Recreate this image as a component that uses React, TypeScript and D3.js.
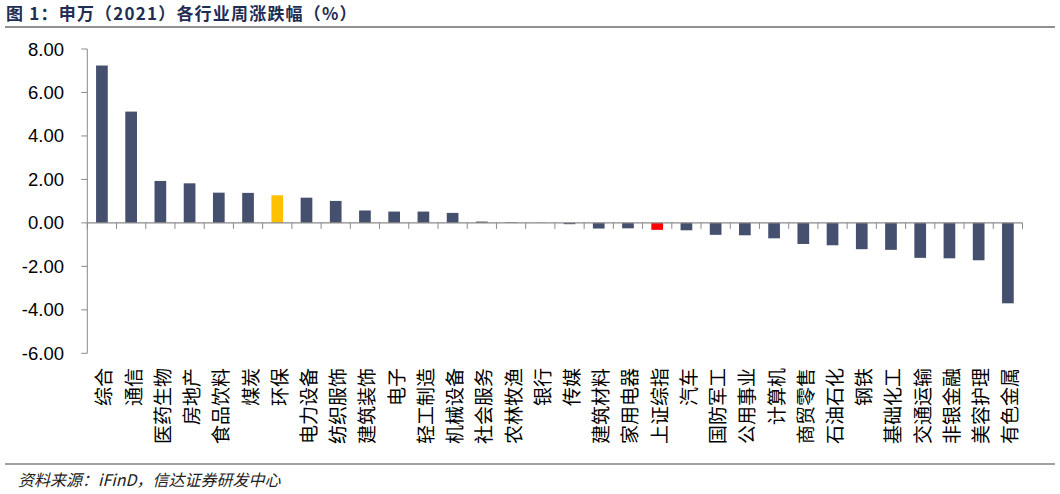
import * as d3 from "d3";

const categories = [
  "综合", "通信", "医药生物", "房地产", "食品饮料", "煤炭", "环保", "电力设备",
  "纺织服饰", "建筑装饰", "电子", "轻工制造", "机械设备", "社会服务", "农林牧渔", "银行",
  "传媒", "建筑材料", "家用电器", "上证综指", "汽车", "国防军工", "公用事业", "计算机",
  "商贸零售", "石油石化", "钢铁", "基础化工", "交通运输", "非银金融", "美容护理", "有色金属",
];

const values = [
  7.24, 5.12, 1.93, 1.82, 1.39, 1.38, 1.27, 1.16,
  1.01, 0.57, 0.52, 0.52, 0.46, 0.06, 0.03, 0.01,
  -0.06, -0.26, -0.25, -0.32, -0.34, -0.55, -0.57, -0.71,
  -0.97, -1.03, -1.21, -1.24, -1.61, -1.63, -1.72, -3.7,
];

const yTicks = [8, 6, 4, 2, 0, -2, -4, -6];

const highlight: Record<string, string> = { 环保: "#FFC000", 上证综指: "#FF0000" };

const W = 1060;
const H = 494;
const cjk = "'Noto Sans CJK SC', 'Noto Sans', sans-serif";
const latin = "'Liberation Sans', Arial, sans-serif";

export default function App() {
  const x = d3
    .scaleBand<string>()
    .domain(categories)
    .range([87.3, 1022.5])
    .paddingInner(0.6)
    .paddingOuter(0.3);
  const y = d3.scaleLinear().domain([-6, 8]).range([353.3, 49]);
  const step = x.step();
  const x0 = 87.3;
  const axisColor = "#8a8a8a";

  return (
    <svg
      width={W}
      height={H}
      style={{ position: "absolute", left: 0, top: 0, background: "#fff" }}
    >
      {/* title */}
      <text
        x={6}
        y={20}
        fontFamily={cjk}
        fontWeight="bold"
        fontSize={17}
        letterSpacing={1.2}
        fill="#1F2D52"
      >
        图 1：申万（2021）各行业周涨跌幅（%）
      </text>
      <line x1={5} x2={1055} y1={27} y2={27} stroke="#6b6b6b" strokeWidth={1.6} />

      {/* y axis */}
      <line x1={x0} x2={x0} y1={y(8)} y2={y(-6)} stroke={axisColor} strokeWidth={1} />
      {yTicks.map((t) => (
        <g key={t}>
          <line x1={x0 - 6} x2={x0} y1={y(t)} y2={y(t)} stroke={axisColor} strokeWidth={1} />
          <text
            x={64}
            y={y(t)}
            textAnchor="end"
            dominantBaseline="central"
            fontFamily={latin}
            fontSize={18.5}
            fill="#000"
          >
            {t.toFixed(2)}
          </text>
        </g>
      ))}

      {/* bars */}
      {categories.map((c, i) => {
        const v = values[i];
        return (
          <rect
            key={c}
            x={x(c)}
            y={Math.min(y(v), y(0))}
            width={x.bandwidth()}
            height={Math.abs(y(v) - y(0))}
            fill={highlight[c] ?? "#454F6E"}
          />
        );
      })}

      {/* x axis */}
      <line x1={x0} x2={1022.5} y1={y(0)} y2={y(0)} stroke={axisColor} strokeWidth={1.2} />
      {d3.range(categories.length + 1).map((i) => (
        <line
          key={i}
          x1={x0 + i * step}
          x2={x0 + i * step}
          y1={y(0)}
          y2={y(0) + 6}
          stroke={axisColor}
          strokeWidth={1}
        />
      ))}

      {/* category labels */}
      {categories.map((c) => {
        const cx = (x(c) ?? 0) + x.bandwidth() / 2;
        return (
          <text
            key={c}
            transform={`translate(${cx + 1},368) rotate(-90)`}
            textAnchor="end"
            dominantBaseline="central"
            fontFamily={cjk}
            fontSize={19}
            fill="#000"
          >
            {c}
          </text>
        );
      })}

      {/* footer */}
      <line x1={5} x2={1055} y1={464} y2={464} stroke="#444" strokeWidth={1.2} />
      <text
        x={18}
        y={486}
        fontFamily={cjk}
        fontStyle="italic"
        fontSize={16}
        fill="#222"
      >
        资料来源：iFinD，信达证券研发中心
      </text>
    </svg>
  );
}
